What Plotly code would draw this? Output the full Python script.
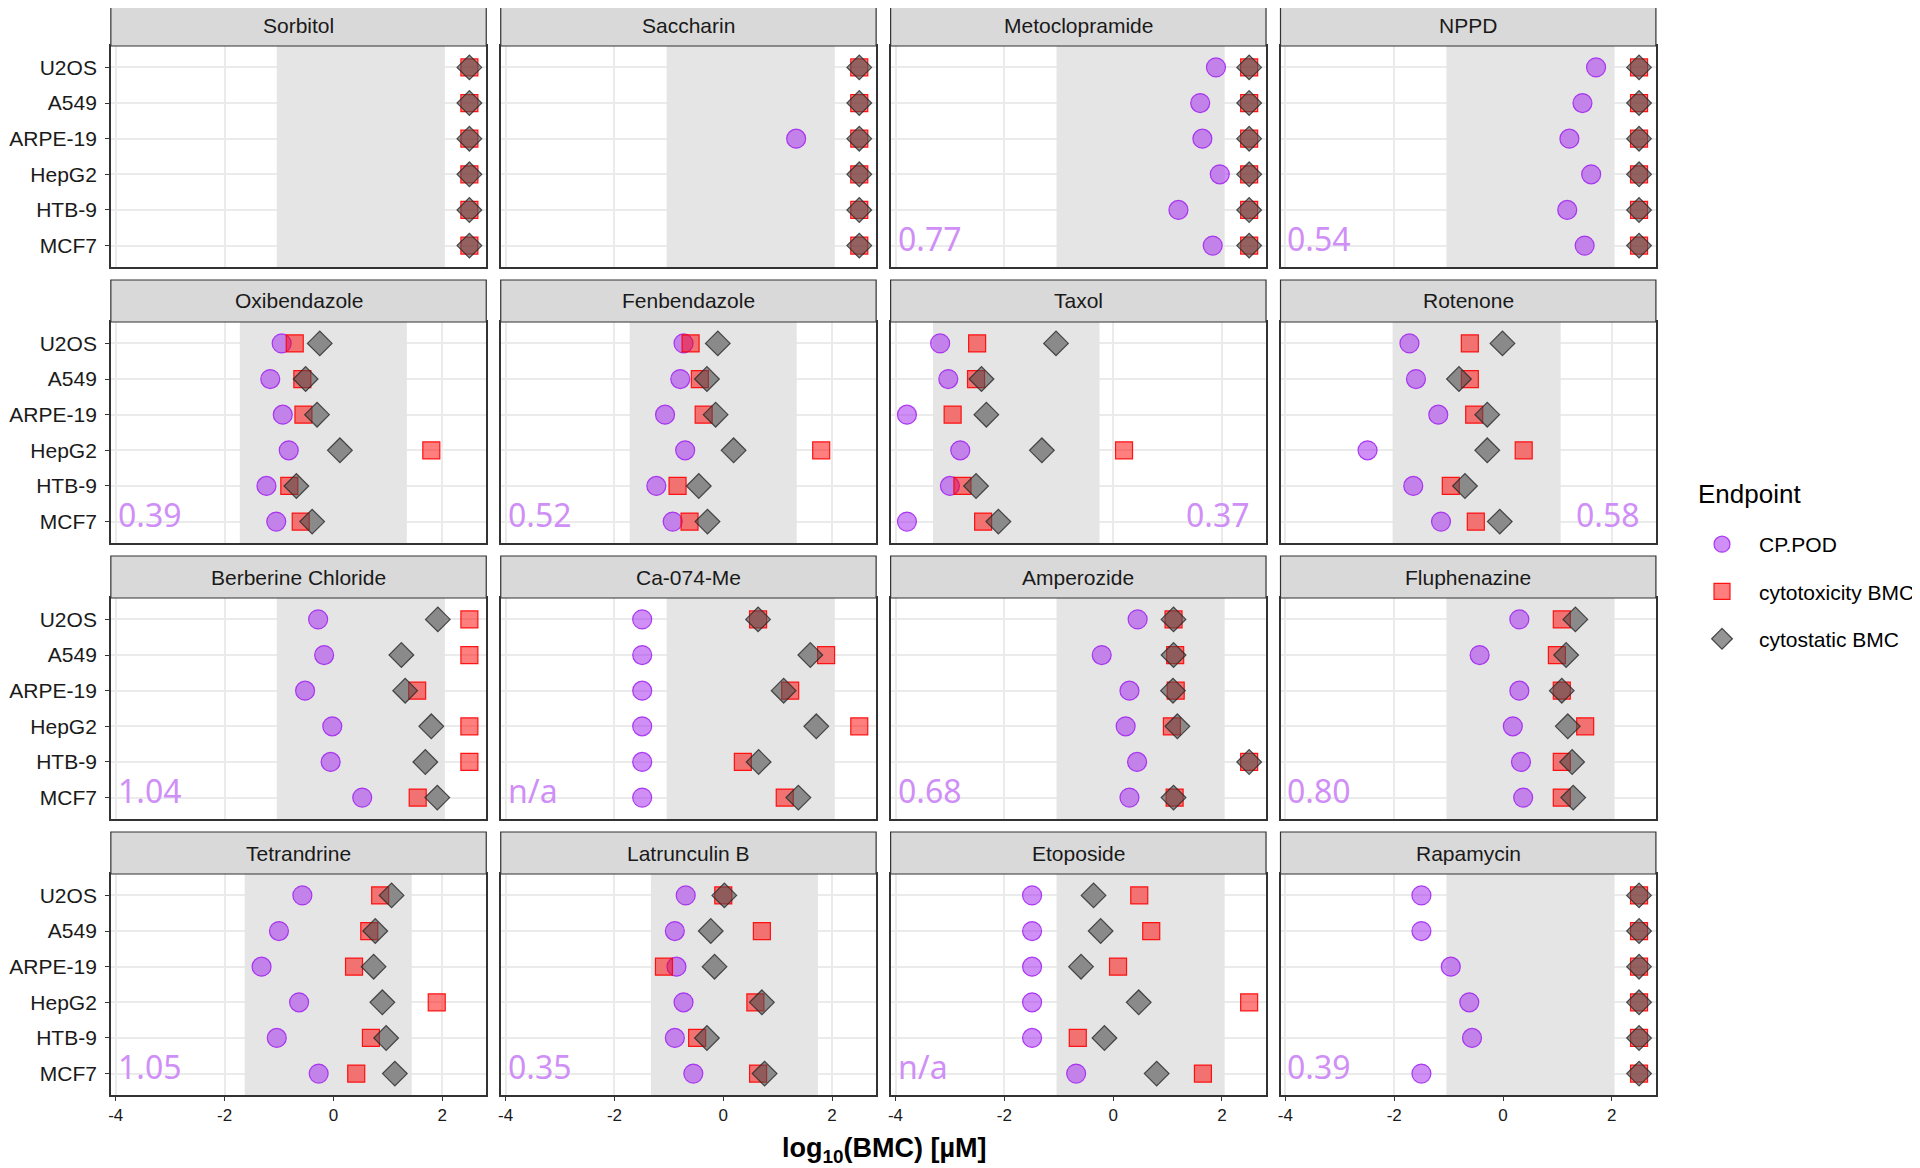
import plotly.graph_objects as go

# facet order (row by row) and cell lines (top to bottom in each panel)
compounds = ["Sorbitol", "Saccharin", "Metoclopramide", "NPPD",
             "Oxibendazole", "Fenbendazole", "Taxol", "Rotenone",
             "Berberine Chloride", "Ca-074-Me", "Amperozide", "Fluphenazine",
             "Tetrandrine", "Latrunculin B", "Etoposide", "Rapamycin"]
cell_lines = ["U2OS", "A549", "ARPE-19", "HepG2", "HTB-9", "MCF7"]

# log10 values, one row per compound, order as cell_lines (None = not active)
cp_pod = [
    [None, None, None, None, None, None],
    [None, None, 1.34, None, None, None],
    [1.89, 1.60, 1.64, 1.96, 1.20, 1.83],
    [1.71, 1.46, 1.22, 1.62, 1.18, 1.50],
    [-0.95, -1.16, -0.93, -0.82, -1.23, -1.05],
    [-0.73, -0.79, -1.07, -0.70, -1.23, -0.93],
    [-3.18, -3.03, -3.79, -2.81, -3.00, -3.79],
    [-1.72, -1.60, -1.19, -2.49, -1.65, -1.14],
    [-0.28, -0.17, -0.52, -0.02, -0.05, 0.53],
    [-1.49, -1.49, -1.49, -1.49, -1.49, -1.49],
    [0.45, -0.21, 0.30, 0.23, 0.44, 0.30],
    [0.30, -0.43, 0.30, 0.18, 0.33, 0.37],
    [-0.57, -1.00, -1.32, -0.63, -1.04, -0.27],
    [-0.69, -0.89, -0.86, -0.73, -0.89, -0.55],
    [-1.49, -1.49, -1.49, -1.49, -1.49, -0.68],
    [-1.50, -1.50, -0.96, -0.62, -0.57, -1.50],
]
cyto_tox = [
    [2.5, 2.5, 2.5, 2.5, 2.5, 2.5],
    [2.5, 2.5, 2.5, 2.5, 2.5, 2.5],
    [2.5, 2.5, 2.5, 2.5, 2.5, 2.5],
    [2.5, 2.5, 2.5, 2.5, 2.5, 2.5],
    [-0.71, -0.57, -0.55, 1.80, -0.81, -0.60],
    [-0.60, -0.43, -0.36, 1.80, -0.84, -0.62],
    [-2.50, -2.52, -2.95, 0.20, -2.77, -2.39],
    [-0.61, -0.61, -0.53, 0.38, -0.96, -0.50],
    [2.5, 2.5, 1.54, 2.5, 2.5, 1.55],
    [0.64, 1.89, 1.23, 2.5, 0.36, 1.13],
    [1.11, 1.14, 1.15, 1.08, 2.5, 1.13],
    [1.08, 0.99, 1.08, 1.51, 1.08, 1.08],
    [0.86, 0.66, 0.38, 1.90, 0.69, 0.42],
    [0.00, 0.71, -1.09, 0.59, -0.48, 0.64],
    [0.48, 0.70, 0.09, 2.50, -0.65, 1.65],
    [2.5, 2.5, 2.5, 2.5, 2.5, 2.5],
]
cyto_stat = [
    [2.5, 2.5, 2.5, 2.5, 2.5, 2.5],
    [2.5, 2.5, 2.5, 2.5, 2.5, 2.5],
    [2.5, 2.5, 2.5, 2.5, 2.5, 2.5],
    [2.5, 2.5, 2.5, 2.5, 2.5, 2.5],
    [-0.25, -0.51, -0.30, 0.12, -0.68, -0.39],
    [-0.10, -0.30, -0.14, 0.19, -0.45, -0.29],
    [-1.05, -2.42, -2.33, -1.31, -2.52, -2.11],
    [-0.01, -0.81, -0.29, -0.29, -0.70, -0.06],
    [1.92, 1.25, 1.32, 1.80, 1.69, 1.91],
    [0.64, 1.60, 1.11, 1.71, 0.65, 1.38],
    [1.11, 1.11, 1.10, 1.18, 2.5, 1.11],
    [1.33, 1.16, 1.08, 1.19, 1.27, 1.29],
    [1.07, 0.77, 0.74, 0.90, 0.97, 1.13],
    [0.02, -0.23, -0.16, 0.71, -0.30, 0.76],
    [-0.36, -0.23, -0.59, 0.47, -0.16, 0.80],
    [2.5, 2.5, 2.5, 2.5, 2.5, 2.5],
]

# grey band per compound
band_lo = [-1.04, -1.04, -1.04, -1.04, -1.72, -1.72, -3.31, -2.03,
           -1.04, -1.04, -1.04, -1.04, -1.63, -1.33, -1.04, -1.04]
band_hi = [2.05, 2.05, 2.05, 2.05, 1.35, 1.35, -0.25, 1.06,
           2.05, 2.05, 2.05, 2.05, 1.44, 1.74, 2.05, 2.05]

# number printed in the corner of each panel
corner_text = ["", "", "0.77", "0.54", "0.39", "0.52", "0.37", "0.58",
               "1.04", "n/a", "0.68", "0.80", "1.05", "0.35", "n/a", "0.39"]
corner_right = [False, False, False, False, False, False, True, True,
                False, False, False, False, False, False, False, False]

x_ticks = [-4, -2, 0, 2]

# page body has an 8px margin, so work in screen pixels minus 8
OFF = 8
W, H = 1920 - OFF, 1168 - OFF
FONT = "Liberation Sans, Arial, sans-serif"

y_pos = list(range(len(cell_lines)))[::-1]  # U2OS on top

styles = [
    ("CP.POD", cp_pod, dict(symbol="circle", size=19, color="rgba(160,32,240,0.5)",
                            line=dict(color="rgba(160,32,240,0.85)", width=1.2))),
    ("cytotoxicity BMC", cyto_tox, dict(symbol="square", size=17, color="rgba(255,0,0,0.5)",
                                        line=dict(color="rgba(255,0,0,0.9)", width=1.2))),
    ("cytostatic BMC", cyto_stat, dict(symbol="diamond", size=19, color="rgba(77,77,77,0.6)",
                                       line=dict(color="rgba(40,40,40,0.8)", width=1.2))),
]


def px_x(p):
    return (p - OFF) / W


def px_y(p):
    return 1 - (p - OFF) / H


fig = go.Figure()
layout = {}
shapes = []
annotations = []

for i, name in enumerate(compounds):
    r, c = divmod(i, 4)
    k = "" if i == 0 else str(i + 1)
    x0 = 108 + c * 390.5
    x1 = x0 + 376
    top = 46 + r * 276
    bot = 267 + r * 276

    # shaded band, spans the whole panel height
    fig.add_trace(go.Bar(
        x=[band_hi[i] - band_lo[i]], base=[band_lo[i]], y=[(len(cell_lines) - 1) / 2],
        width=[len(cell_lines) + 0.2], orientation="h",
        marker=dict(color="#E5E5E5", line=dict(width=0)),
        showlegend=False, hoverinfo="skip", xaxis="x" + k, yaxis="y" + k))

    for label, data, mk in styles:
        fig.add_trace(go.Scatter(
            x=data[i], y=y_pos, mode="markers", marker=mk, name=label,
            legendgroup=label, showlegend=(i == 0),
            xaxis="x" + k, yaxis="y" + k, cliponaxis=False))

    layout["xaxis" + k] = dict(
        domain=[px_x(x0), px_x(x1)], range=[-4.09, 2.81], anchor="y" + k,
        tickvals=x_ticks, ticktext=[str(t) for t in x_ticks],
        showticklabels=(r == 3), ticks="outside" if r == 3 else "",
        ticklen=4, tickcolor="#333333", tickwidth=1.2,
        tickfont=dict(family=FONT, size=17, color="#1a1a1a"),
        showgrid=True, gridcolor="#EBEBEB", gridwidth=1.5, zeroline=False,
        showline=True, mirror=True, linecolor="#333333", linewidth=1.5)
    layout["yaxis" + k] = dict(
        domain=[px_y(bot), px_y(top)], anchor="x" + k,
        range=[-0.6, len(cell_lines) - 0.4],
        tickvals=y_pos, ticktext=cell_lines, showticklabels=(c == 0),
        ticks="outside" if c == 0 else "", ticklen=4, tickcolor="#333333", tickwidth=1.2,
        ticklabelstandoff=4,
        tickfont=dict(family=FONT, size=21, color="#1a1a1a"),
        showgrid=True, gridcolor="#EBEBEB", gridwidth=1.5, zeroline=False,
        showline=True, mirror=True, linecolor="#333333", linewidth=1.5)

    # strip
    shapes.append(dict(type="rect", xref="paper", yref="paper",
                       x0=px_x(x0), x1=px_x(x1), y0=px_y(top), y1=px_y(top - 42),
                       fillcolor="#D9D9D9", line=dict(color="#333333", width=1.2)))
    annotations.append(dict(text=name, xref="paper", yref="paper",
                            x=px_x((x0 + x1) / 2), y=px_y(top - 21),
                            showarrow=False, xanchor="center", yanchor="middle",
                            font=dict(family=FONT, size=21, color="#1a1a1a")))
    if corner_text[i]:
        annotations.append(dict(
            text=corner_text[i], xref="x" + k, yref="y" + k,
            x=2.55 if corner_right[i] else -4.0, y=0, yshift=7,
            xanchor="right" if corner_right[i] else "left", yanchor="middle",
            showarrow=False,
            font=dict(family="Noto Sans, Open Sans, sans-serif", size=32, color="#CF8FF7")))

annotations.append(dict(text="<b>log<sub>10</sub>(BMC) [µM]</b>", xref="paper", yref="paper",
                        x=px_x(883), y=px_y(1150), showarrow=False,
                        xanchor="center", yanchor="middle",
                        font=dict(family=FONT, size=27, color="#000000")))
annotations.append(dict(text="Endpoint", xref="paper", yref="paper",
                        x=px_x(1696), y=px_y(494), showarrow=False,
                        xanchor="left", yanchor="middle",
                        font=dict(family=FONT, size=26, color="#000000")))

fig.update_layout(
    **layout, shapes=shapes, annotations=annotations,
    width=W, height=H, margin=dict(l=0, r=0, t=0, b=0),
    paper_bgcolor="white", plot_bgcolor="white",
    legend=dict(x=px_x(1685), y=px_y(524), xanchor="left", yanchor="top",
                font=dict(family=FONT, size=21, color="#000000"),
                tracegroupgap=17, itemwidth=64, bgcolor="rgba(0,0,0,0)"),
)

fig.write_html("out.html")
